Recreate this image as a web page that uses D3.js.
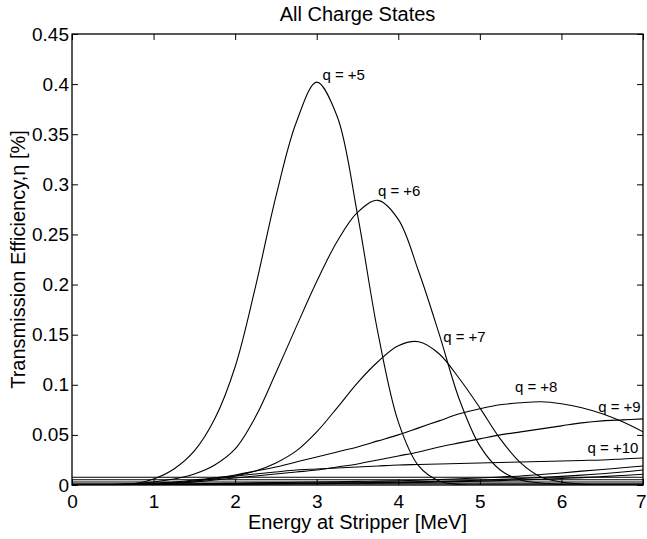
<!DOCTYPE html>
<html>
<head>
<meta charset="utf-8">
<script src="https://cdn.jsdelivr.net/npm/d3@7"></script>
<style>
  html, body { margin: 0; padding: 0; background: #fff; }
  svg { display: block; font-family: "Liberation Sans", Arial, Helvetica, sans-serif; }
</style>
</head>
<body>
<svg id="chart" width="647" height="539"></svg>
<script>
// ---------------- data ----------------
const energy = [0, 0.25, 0.5, 0.75, 1, 1.25, 1.5, 1.75, 2, 2.25, 2.5, 2.75, 3, 3.25, 3.5, 3.75,
                4, 4.25, 4.5, 4.75, 5, 5.25, 5.5, 5.75, 6, 6.25, 6.5, 6.75, 7];

const q5  = [0, 0, 0, 0.001, 0.006, 0.016, 0.034, 0.066, 0.118, 0.198, 0.288, 0.362, 0.402, 0.368, 0.270, 0.152,
             0.063, 0.019, 0.004, 0.0005, 0, 0, 0, 0, 0, 0, 0, 0, 0];
const q6  = [0, 0, 0.0005, 0.0015, 0.003, 0.006, 0.011, 0.020, 0.036, 0.068, 0.112, 0.158, 0.203, 0.243, 0.272, 0.284,
             0.265, 0.213, 0.151, 0.085, 0.039, 0.015, 0.005, 0.002, 0.0005, 0, 0, 0, 0];
const q7  = [0, 0, 0.0003, 0.0006, 0.001, 0.002, 0.004, 0.006, 0.009, 0.014, 0.022, 0.034, 0.053, 0.077, 0.102, 0.123,
             0.139, 0.143, 0.131, 0.106, 0.077, 0.046, 0.022, 0.008, 0.003, 0.001, 0, 0, 0];
const q8  = [0, 0.0002, 0.0005, 0.001, 0.002, 0.003, 0.005, 0.007, 0.010, 0.014, 0.018, 0.023, 0.028, 0.033, 0.038, 0.044,
             0.050, 0.057, 0.064, 0.071, 0.076, 0.080, 0.082, 0.083, 0.081, 0.077, 0.071, 0.063, 0.053];
const q9  = [0, 0, 0.0003, 0.0006, 0.001, 0.002, 0.003, 0.005, 0.007, 0.009, 0.011, 0.013, 0.015, 0.018, 0.021, 0.025,
             0.029, 0.033, 0.038, 0.042, 0.046, 0.050, 0.053, 0.056, 0.059, 0.062, 0.064, 0.065, 0.066];
const q10 = [0, 0, 0.0002, 0.0005, 0.001, 0.002, 0.004, 0.007, 0.009, 0.011, 0.013, 0.015, 0.016, 0.017, 0.018, 0.019,
             0.020, 0.0205, 0.021, 0.0215, 0.022, 0.0225, 0.023, 0.0235, 0.024, 0.0245, 0.025, 0.026, 0.027];
const q11 = [0, 0, 0.0002, 0.0004, 0.0006, 0.0009, 0.0012, 0.0015, 0.0018, 0.0021, 0.0024, 0.0027, 0.003, 0.0033, 0.0036, 0.0039,
             0.0042, 0.0048, 0.0055, 0.0062, 0.007, 0.008, 0.009, 0.0105, 0.012, 0.0138, 0.0155, 0.0172, 0.019];
const q12 = [0, 0, 0.0001, 0.0002, 0.0003, 0.0005, 0.0007, 0.0009, 0.0011, 0.0013, 0.0015, 0.0017, 0.0019, 0.0021, 0.0023, 0.0025,
             0.0028, 0.0032, 0.0036, 0.0042, 0.0048, 0.0056, 0.0065, 0.0075, 0.0086, 0.0099, 0.0113, 0.013, 0.015];
const q13 = [0, 0, 0, 0.0001, 0.0002, 0.0003, 0.0004, 0.0005, 0.0006, 0.0008, 0.001, 0.0012, 0.0014, 0.0016, 0.0018, 0.002,
             0.0023, 0.0026, 0.003, 0.0034, 0.0039, 0.0044, 0.005, 0.0057, 0.0065, 0.0074, 0.0084, 0.0095, 0.0107];

// near-constant low-level charge states across the whole energy range
const energyEnds = [0, 7];
const qLowA = [0.0078, 0.0078];
const qLowB = [0.0052, 0.0052];
const qLowC = [0.0030, 0.0030];
const qLowD = [0.0012, 0.0012];

const xTicks = [0, 1, 2, 3, 4, 5, 6, 7];
const yTicks = [0, 0.05, 0.1, 0.15, 0.2, 0.25, 0.3, 0.35, 0.4, 0.45];

const labelText   = ["q = +5", "q = +6", "q = +7", "q = +8", "q = +9", "q = +10"];
const labelEnergy = [3.07, 3.75, 4.55, 5.43, 6.45, 6.32];
const labelValue  = [0.404, 0.288, 0.1427, 0.0928, 0.0728, 0.0319];

const titleText = "All Charge States";
const xTitle = "Energy at Stripper [MeV]";
const yTitle = "Transmission Efficiency,\u03b7 [%]";

// ---------------- chart ----------------
const svg = d3.select("#chart");
const L = 72, R = 643, T = 34, B = 485;
const x = d3.scaleLinear().domain([0, 7]).range([L, R]);
const y = d3.scaleLinear().domain([0, 0.45]).range([B, T]);

svg.append("defs").append("clipPath").attr("id", "plotclip")
  .append("rect").attr("x", L).attr("y", T).attr("width", R - L).attr("height", B - T);

const series = [
  { xs: energyEnds, ys: qLowA }, { xs: energyEnds, ys: qLowB },
  { xs: energyEnds, ys: qLowC }, { xs: energyEnds, ys: qLowD },
  { xs: energy, ys: q13 }, { xs: energy, ys: q12 }, { xs: energy, ys: q11 },
  { xs: energy, ys: q10 }, { xs: energy, ys: q9 }, { xs: energy, ys: q8 },
  { xs: energy, ys: q7 }, { xs: energy, ys: q6 }, { xs: energy, ys: q5 }
];

const line = d3.line()
  .x(d => x(d[0]))
  .y(d => y(d[1]))
  .curve(d3.curveCatmullRom.alpha(0.5));

svg.append("g").attr("clip-path", "url(#plotclip)")
  .selectAll("path")
  .data(series)
  .join("path")
  .attr("d", s => line(s.xs.map((e, i) => [e, s.ys[i]])))
  .attr("fill", "none")
  .attr("stroke", "#000")
  .attr("stroke-width", 1.1);

// axes
const fmtY = d => d === 0 ? "0" : String(+d.toFixed(2));

const gx = svg.append("g").attr("transform", `translate(0,${B})`)
  .call(d3.axisBottom(x).tickValues(xTicks).tickFormat(d3.format("d"))
        .tickSizeInner(-6).tickSizeOuter(0).tickPadding(10));
const gy = svg.append("g").attr("transform", `translate(${L},0)`)
  .call(d3.axisLeft(y).tickValues(yTicks).tickFormat(fmtY)
        .tickSizeInner(-6).tickSizeOuter(0).tickPadding(3));
const gxt = svg.append("g").attr("transform", `translate(0,${T})`)
  .call(d3.axisTop(x).tickValues(xTicks).tickFormat("")
        .tickSizeInner(-6).tickSizeOuter(0));
const gyr = svg.append("g").attr("transform", `translate(${R},0)`)
  .call(d3.axisRight(y).tickValues(yTicks).tickFormat("")
        .tickSizeInner(-6).tickSizeOuter(0));

[gx, gy, gxt, gyr].forEach(g => {
  g.select(".domain").remove();
  g.selectAll(".tick line").attr("stroke", "#000").attr("stroke-width", 1);
  g.selectAll("text").attr("fill", "#000").attr("font-size", 19)
    .attr("font-family", "'Liberation Sans', Arial, Helvetica, sans-serif");
});
// last x tick label sits against the right edge, as in the reference
gx.selectAll(".tick text").filter(d => d === 7)
  .attr("text-anchor", "end").attr("x", 3);

svg.append("rect").attr("x", L).attr("y", T).attr("width", R - L).attr("height", B - T)
  .attr("fill", "none").attr("stroke", "#000").attr("stroke-width", 1.3);

// curve labels
svg.append("g").selectAll("text")
  .data(labelText)
  .join("text")
  .attr("x", (d, i) => x(labelEnergy[i]))
  .attr("y", (d, i) => y(labelValue[i]))
  .attr("font-size", 15)
  .attr("fill", "#000")
  .text(d => d);

// titles
svg.append("text").attr("x", (L + R) / 2).attr("y", 21)
  .attr("text-anchor", "middle").attr("font-size", 20).text(titleText);
svg.append("text").attr("x", (L + R) / 2).attr("y", 529)
  .attr("text-anchor", "middle").attr("font-size", 20).text(xTitle);
svg.append("text")
  .attr("transform", `translate(25,${(T + B) / 2}) rotate(-90)`)
  .attr("text-anchor", "middle").attr("font-size", 20).text(yTitle);
</script>
</body>
</html>
